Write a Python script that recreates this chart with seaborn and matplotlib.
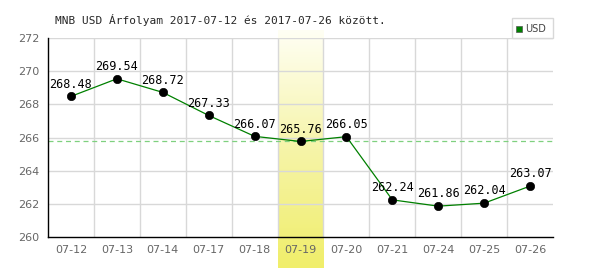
import matplotlib
matplotlib.use("Agg")
import matplotlib.pyplot as plt
import seaborn as sns
import numpy as np
import pandas as pd
from matplotlib.colors import LinearSegmentedColormap
from matplotlib.patches import Rectangle

dates = ["07-12", "07-13", "07-14", "07-17", "07-18", "07-19", "07-20", "07-21", "07-24", "07-25", "07-26"]
rates = [268.48, 269.54, 268.72, 267.33, 266.07, 265.76, 266.05, 262.24, 261.86, 262.04, 263.07]
ref_level = 265.8
highlight = "07-19"
title = "MNB USD Árfolyam 2017-07-12 és 2017-07-26 között."
yticks = [260, 262, 264, 266, 268, 270, 272]

df = pd.DataFrame({"date": dates, "rate": rates, "x": range(len(dates))})

sns.set_style("white")
fig = plt.figure(figsize=(6.0, 2.7), dpi=100)
ax = fig.add_axes([48/600, 1-237/270, 505/600, 199/270])

n = len(dates)

# highlight gradient column (extends beyond axes)
hi = dates.index(highlight)
grad = np.linspace(0, 1, 256).reshape(-1, 1)
cmap = LinearSegmentedColormap.from_list("y", ["#f0ee6a", "#f6f4a8", "#fffff4"])
ax.imshow(grad, cmap=cmap, aspect="auto", origin="lower",
          extent=(hi - 0.5, hi + 0.5, 258.15, 272.5), zorder=0, clip_on=False)
ax.set_xlim(-0.5, n - 0.5)
ax.set_ylim(260, 272)

# grid
for i in range(n - 1):
    ax.axvline(i + 0.5, color="#d8d8d8", lw=1, zorder=1)
for t in yticks[1:]:
    ax.axhline(t, color="#d8d8d8", lw=1, zorder=1)

ax.axhline(ref_level, color="#7fd07f", lw=0.9, ls=(0, (4, 3)), zorder=2)

sns.lineplot(data=df, x="x", y="rate", ax=ax, color="#008000", lw=0.9, zorder=3, legend=False)
sns.scatterplot(data=df, x="x", y="rate", ax=ax, color="black", s=36, zorder=4, legend=False, edgecolor="black")

for xi, v in zip(df["x"], df["rate"]):
    ax.text(xi, v + 0.35, f"{v:.2f}", ha="center", va="bottom", fontsize=8.5,
            family="DejaVu Sans Mono", color="black", zorder=5)

ax.set_xticks(range(n))
ax.set_xticklabels(dates, color="#666666", fontsize=8)
ax.set_yticks(yticks)
ax.set_yticklabels([str(t) for t in yticks], color="#666666", fontsize=8)
ax.tick_params(axis="both", length=0, pad=6)
ax.set_xlabel("")
ax.set_ylabel("")
for s in ["top", "right"]:
    ax.spines[s].set_visible(False)
for s in ["left", "bottom"]:
    ax.spines[s].set_color("black")
    ax.spines[s].set_linewidth(1)

fig.text(55/600, 1-20/270, title, fontsize=8, family="DejaVu Sans Mono", va="center", ha="left")

# legend box
fig.patches.append(Rectangle((512/600, 1-38/270), 41/600, 20/270, transform=fig.transFigure,
                             facecolor="white", edgecolor="#d8d8d8", lw=1))
fig.patches.append(Rectangle((516/600, 1-32/270), 6/600, 6/270, transform=fig.transFigure,
                             facecolor="#008000", edgecolor="#555555", lw=0.5))
fig.text(525/600, 1-28.5/270, "USD", fontsize=7, color="#444444", va="center", ha="left")

fig.savefig("out.png", dpi=100)
